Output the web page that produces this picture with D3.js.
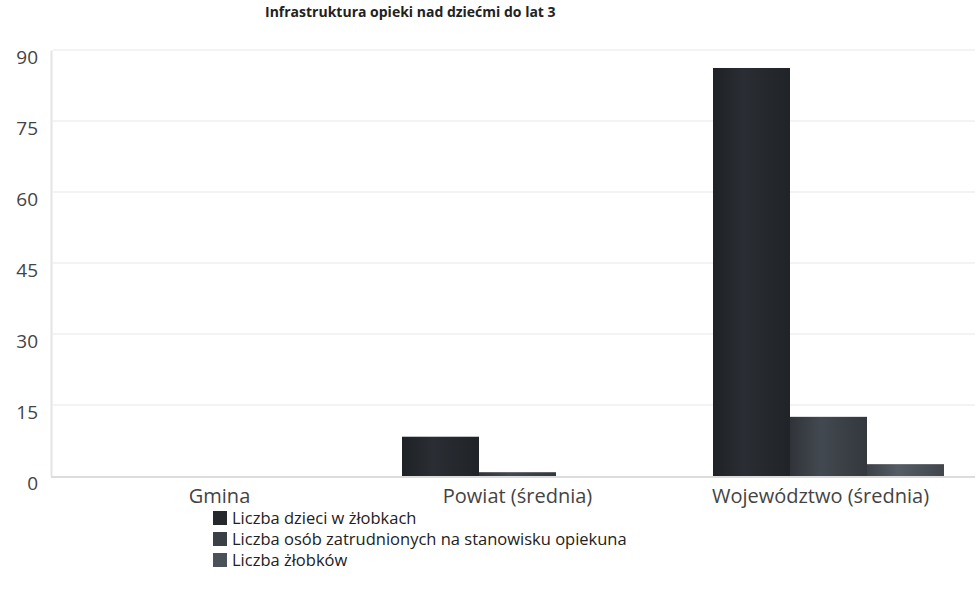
<!DOCTYPE html>
<html><head><meta charset="utf-8">
<script src="https://cdn.jsdelivr.net/npm/d3@7"></script>
<style>body{margin:0;background:#fff;} svg{display:block;font-family:"Open Sans","DejaVu Sans",sans-serif;}</style>
</head><body>
<svg id="c" width="979" height="610"></svg>
<script>
const title = "Infrastruktura opieki nad dziećmi do lat 3";
const categories = ["Gmina", "Powiat (średnia)", "Województwo (średnia)"];
const seriesNames = ["Liczba dzieci w żłobkach", "Liczba osób zatrudnionych na stanowisku opiekuna", "Liczba żłobków"];
const dzieci = [0, 8.3, 86.2];
const opiekunowie = [0, 0.8, 12.5];
const zlobki = [0, 0, 2.5];
const yTicks = [0, 15, 30, 45, 60, 75, 90];
const colors = ["#25292e", "#3b4047", "#4b5159"];

const svg = d3.select("#c");
const m = {left: 51, right: 984, top: 50, bottom: 476};
const series = [dzieci, opiekunowie, zlobki];

const defs = svg.append("defs");
colors.forEach((c, i) => {
  const g = defs.append("linearGradient").attr("id", "g" + i).attr("x1", "0").attr("x2", "1");
  const base = d3.color(c);
  g.append("stop").attr("offset", "0%").attr("stop-color", base.darker(0.6));
  g.append("stop").attr("offset", "40%").attr("stop-color", base.brighter(0.35));
  g.append("stop").attr("offset", "100%").attr("stop-color", base.darker(0.4));
});

// title (near the top edge, as in the scan)
svg.append("text").attr("x", 265).attr("y", 17).attr("font-size", 14).attr("font-weight", "bold")
  .attr("fill", "#222").text(title);

const y = d3.scaleLinear().domain([0, 90]).range([m.bottom, m.top]);
const x0 = d3.scaleBand().domain(categories).range([m.left, m.right]);
const x1 = d3.scaleBand().domain(d3.range(3)).range([40, x0.bandwidth() - 40]);

// gridlines
svg.append("g").selectAll("line").data(yTicks.filter(t => t > 0)).join("line")
  .attr("x1", m.left + 2).attr("x2", 975).attr("y1", d => y(d)).attr("y2", d => y(d))
  .attr("stroke", "#efefef").attr("stroke-width", 1.5);

// y axis
const yAxis = svg.append("g").attr("transform", `translate(${m.left},0)`)
  .call(d3.axisLeft(y).tickValues(yTicks).tickSize(0).tickPadding(13));
yAxis.select(".domain").attr("stroke", "#e4e4e4").attr("stroke-width", 2);
yAxis.selectAll("text").attr("font-size", 19).attr("fill", "#444").attr("dy", "0.72em")
  .attr("font-family", "'Open Sans', sans-serif");

// bars
const groups = svg.append("g").selectAll("g").data(categories).join("g")
  .attr("transform", d => `translate(${x0(d)},0)`);
groups.selectAll("rect").data((d, ci) => series.map((s, si) => ({si, v: s[ci]}))).join("rect")
  .attr("x", d => x1(d.si)).attr("width", x1.bandwidth())
  .attr("y", d => y(d.v)).attr("height", d => y(0) - y(d.v))
  .attr("fill", d => `url(#g${d.si})`);

// baseline
svg.append("line").attr("x1", m.left).attr("x2", 975).attr("y1", y(0) + 1).attr("y2", y(0) + 1)
  .attr("stroke", "#dcdcdc").attr("stroke-width", 2);

// x labels
const xAxis = svg.append("g").attr("transform", `translate(0,${y(0)})`)
  .call(d3.axisBottom(x0).tickSize(0).tickPadding(13));
xAxis.select(".domain").remove();
xAxis.selectAll("text").attr("font-size", 20).attr("fill", "#444")
  .attr("font-family", "'Open Sans', sans-serif");
xAxis.selectAll(".tick").attr("transform", (d, i) => `translate(${x0(d) + x0.bandwidth() / 2 + [13, 0, -8][i]},0)`);

// legend
const lg = svg.append("g").attr("transform", "translate(213,511)");
const row = lg.selectAll("g").data(seriesNames).join("g").attr("transform", (d, i) => `translate(0,${i * 21})`);
row.append("rect").attr("width", 14).attr("height", 14).attr("fill", (d, i) => colors[i]);
row.append("text").attr("x", 19).attr("y", 13).attr("font-size", 16.5).attr("fill", "#222")
  .attr("font-family", "'Open Sans', sans-serif").text(d => d);
</script>
</body></html>
